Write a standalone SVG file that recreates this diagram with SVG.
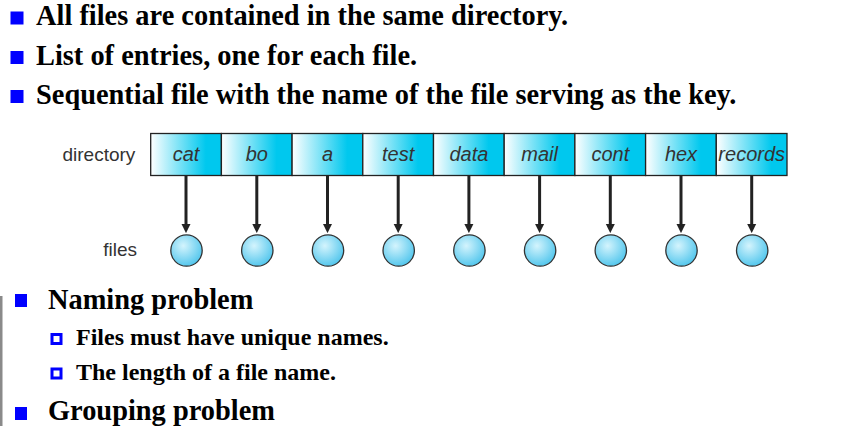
<svg xmlns="http://www.w3.org/2000/svg" width="846" height="426" viewBox="0 0 846 426">
<defs>
<linearGradient id="cellGrad" x1="0" y1="0" x2="1" y2="0">
<stop offset="0" stop-color="#ffffff"/>
<stop offset="0.78" stop-color="#00c8ee"/>
<stop offset="1" stop-color="#00c8ee"/>
</linearGradient>
<radialGradient id="fileGrad" cx="0.4" cy="0.35" r="0.7">
<stop offset="0" stop-color="#d4f4fd"/>
<stop offset="1" stop-color="#4cc4ec"/>
</radialGradient>
<marker id="arrow" viewBox="0 0 10 10" markerWidth="9" markerHeight="10" markerUnits="userSpaceOnUse" refX="1" refY="5" orient="auto">
<path d="M0,0 L10,5 L0,10 z" fill="#222"/>
</marker>
</defs>
<style>
.main{font-family:"Liberation Serif","Times New Roman",serif;font-weight:bold;font-size:28.4px;fill:#000}
.sub{font-family:"Liberation Serif","Times New Roman",serif;font-weight:bold;font-size:24px;fill:#000}
.bul{fill:#0000ff}
.hbul{fill:#fff;stroke:#0000ff;stroke-width:3}
.cell{fill:url(#cellGrad);stroke:#222;stroke-width:1.3}
.cellt{font-family:"Liberation Sans",Arial,sans-serif;font-style:italic;font-size:20px;fill:#333;text-anchor:middle}
.lbl{font-family:"Liberation Sans",Arial,sans-serif;font-size:19px;fill:#333}
.file{fill:url(#fileGrad);stroke:#333;stroke-width:1.3}
.conn{stroke:#222;stroke-width:3;fill:none;marker-end:url(#arrow)}
</style>
<rect width="846" height="426" fill="#ffffff"/>
<rect x="0" y="296" width="2.5" height="130" fill="#8a8a8a"/>
<g id="top-bullets">
<rect class="bul" x="10.5" y="11.5" width="13" height="13"/>
<text class="main" x="36" y="25">All files are contained in the same directory.</text>
<rect class="bul" x="10.5" y="51" width="13" height="13"/>
<text class="main" x="36" y="64.5">List of entries, one for each file.</text>
<rect class="bul" x="10.5" y="90" width="13" height="13"/>
<text class="main" x="36" y="104">Sequential file with the name of the file serving as the key.</text>
</g>
<text class="lbl" x="62.5" y="161">directory</text>
<text class="lbl" x="137" y="256" text-anchor="end">files</text>
<g id="directory">
<g id="cell-cat"><rect class="cell" x="150.7" y="133.5" width="70.7" height="42"/><text class="cellt" x="186" y="161">cat</text></g>
<g id="cell-bo"><rect class="cell" x="221.4" y="133.5" width="70.7" height="42"/><text class="cellt" x="256.8" y="161">bo</text></g>
<g id="cell-a"><rect class="cell" x="292.1" y="133.5" width="70.7" height="42"/><text class="cellt" x="327.5" y="161">a</text></g>
<g id="cell-test"><rect class="cell" x="362.8" y="133.5" width="70.7" height="42"/><text class="cellt" x="398.2" y="161">test</text></g>
<g id="cell-data"><rect class="cell" x="433.5" y="133.5" width="70.7" height="42"/><text class="cellt" x="468.9" y="161">data</text></g>
<g id="cell-mail"><rect class="cell" x="504.2" y="133.5" width="70.7" height="42"/><text class="cellt" x="539.6" y="161">mail</text></g>
<g id="cell-cont"><rect class="cell" x="574.9" y="133.5" width="70.7" height="42"/><text class="cellt" x="610.3" y="161">cont</text></g>
<g id="cell-hex"><rect class="cell" x="645.6" y="133.5" width="70.7" height="42"/><text class="cellt" x="681" y="161">hex</text></g>
<g id="cell-records"><rect class="cell" x="716.3" y="133.5" width="70.7" height="42"/><text class="cellt" x="751.7" y="161">records</text></g>
</g>
<g id="connectors">
<line class="conn" x1="186" y1="176" x2="186" y2="225"/>
<line class="conn" x1="256.8" y1="176" x2="256.8" y2="225"/>
<line class="conn" x1="327.5" y1="176" x2="327.5" y2="225"/>
<line class="conn" x1="398.2" y1="176" x2="398.2" y2="225"/>
<line class="conn" x1="468.9" y1="176" x2="468.9" y2="225"/>
<line class="conn" x1="539.6" y1="176" x2="539.6" y2="225"/>
<line class="conn" x1="610.3" y1="176" x2="610.3" y2="225"/>
<line class="conn" x1="681" y1="176" x2="681" y2="225"/>
<line class="conn" x1="751.7" y1="176" x2="751.7" y2="225"/>
</g>
<g id="file-cat"><circle class="file" cx="186.5" cy="250.5" r="15.7"/></g>
<g id="file-bo"><circle class="file" cx="257.3" cy="250.5" r="15.7"/></g>
<g id="file-a"><circle class="file" cx="328" cy="250.5" r="15.7"/></g>
<g id="file-test"><circle class="file" cx="398.7" cy="250.5" r="15.7"/></g>
<g id="file-data"><circle class="file" cx="469.4" cy="250.5" r="15.7"/></g>
<g id="file-mail"><circle class="file" cx="540.1" cy="250.5" r="15.7"/></g>
<g id="file-cont"><circle class="file" cx="610.8" cy="250.5" r="15.7"/></g>
<g id="file-hex"><circle class="file" cx="681.5" cy="250.5" r="15.7"/></g>
<g id="file-records"><circle class="file" cx="752.2" cy="250.5" r="15.7"/></g>
<g id="bottom-bullets">
<rect class="bul" x="15" y="294" width="12" height="13"/>
<text class="main" x="48" y="309">Naming problem</text>
<rect class="hbul" x="52" y="334.5" width="9" height="9"/>
<text class="sub" x="76" y="345">Files must have unique names.</text>
<rect class="hbul" x="52" y="369" width="9" height="9"/>
<text class="sub" x="76" y="380">The length of a file name.</text>
<rect class="bul" x="15" y="407" width="12" height="13"/>
<text class="main" x="48" y="420">Grouping problem</text>
</g>
</svg>
